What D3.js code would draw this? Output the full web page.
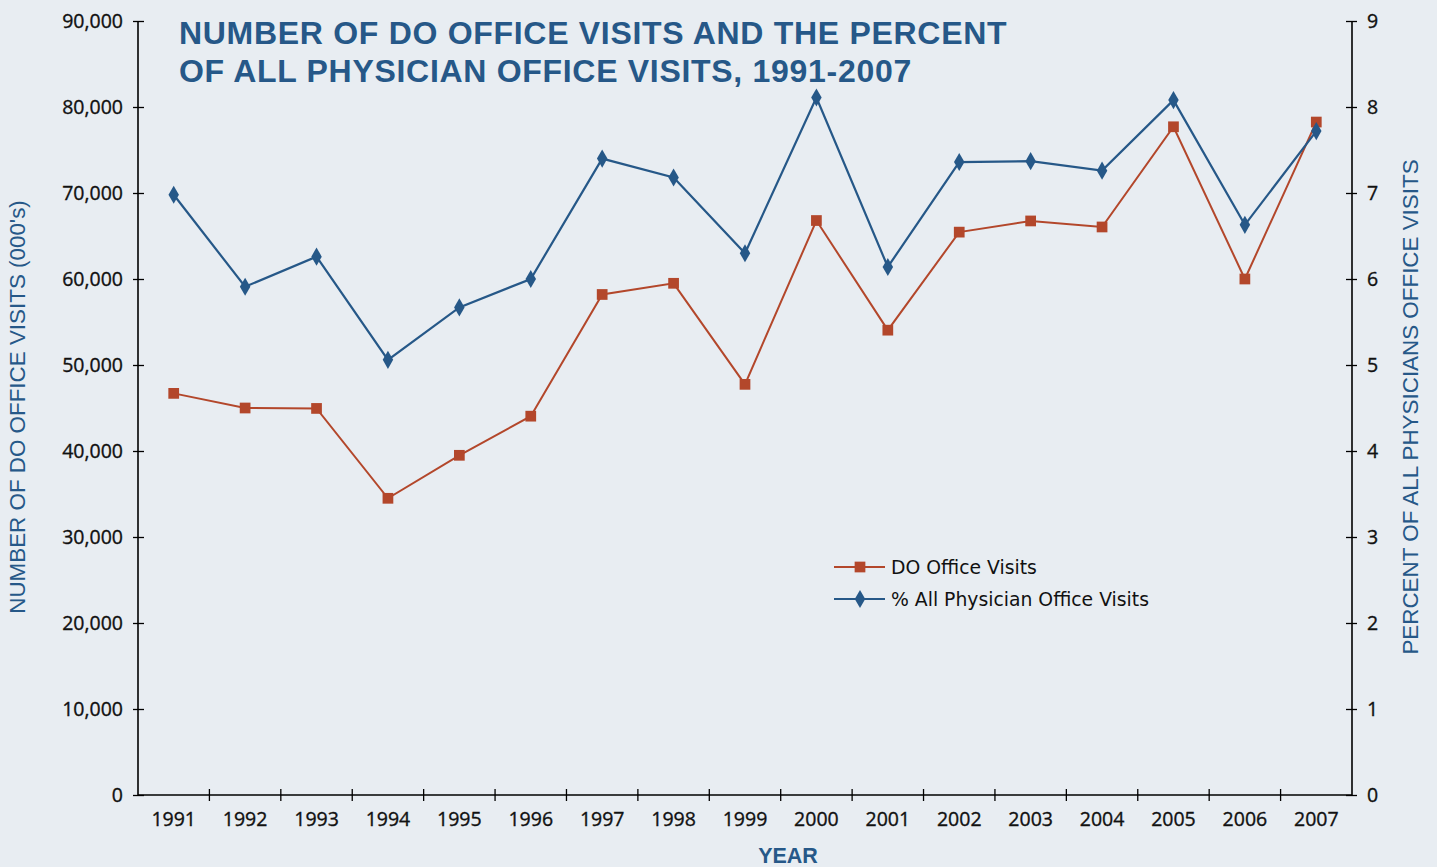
<!DOCTYPE html>
<html><head><meta charset="utf-8">
<script src="https://cdn.jsdelivr.net/npm/d3@7"></script>
<style>body{margin:0;background:#fff}svg{display:block}</style>
</head><body>
<svg id="c" width="1443" height="867"></svg>
<script>
const years = ["1991","1992","1993","1994","1995","1996","1997","1998","1999","2000","2001","2002","2003","2004","2005","2006","2007"];
const doVisits = [46700,45000,44950,34500,39500,44050,58200,59500,47750,66800,54050,65450,66750,66050,77700,60000,78250];
const pctVisits = [6.98,5.91,6.26,5.06,5.67,6.0,7.40,7.18,6.30,8.11,6.14,7.36,7.37,7.26,8.08,6.63,7.72];
const leftTicks = [0,10000,20000,30000,40000,50000,60000,70000,80000,90000];
const rightTicks = [0,1,2,3,4,5,6,7,8,9];
const seriesNames = ["DO Office Visits","% All Physician Office Visits"];

const red = "#b3472b", blue = "#265888", bg = "#e8edf2";
const svg = d3.select("#c");
svg.append("rect").attr("width",1437).attr("height",867).attr("fill",bg);

const L=138, R=1352, T=21, B=795;
const x = d3.scaleBand().domain(years).range([L,R]);
const yL = d3.scaleLinear().domain([0,90000]).range([B,T]);
const yR = d3.scaleLinear().domain([0,9]).range([B,T]);
const tickFont = "'Open Sans', 'DejaVu Sans', sans-serif";
const legFont = "'DejaVu Sans', sans-serif";
const labFont = "'Liberation Sans', Arial, sans-serif";

const gl = svg.append("g").attr("transform",`translate(${L},0)`)
  .call(d3.axisLeft(yL).tickValues(leftTicks).tickFormat(d3.format(",")).tickSize(5).tickPadding(10));
gl.selectAll(".tick line").attr("x1",6);
const gr = svg.append("g").attr("transform",`translate(${R},0)`)
  .call(d3.axisRight(yR).tickValues(rightTicks).tickSize(5).tickPadding(10));
gr.selectAll(".tick line").attr("x1",-6);
const gx = svg.append("g").attr("transform",`translate(0,${B})`)
  .call(d3.axisBottom(x).tickSize(0).tickPadding(17));
gx.selectAll(".bt").data(years.slice(1)).enter().append("line")
  .attr("x1",d=>x(d)).attr("x2",d=>x(d)).attr("y1",-6).attr("y2",6).attr("stroke","#000");
[gl,gr,gx].forEach(g=>{
  g.select(".domain").attr("stroke","#000").attr("stroke-width",1.6);
  g.selectAll("line").attr("stroke","#000").attr("stroke-width",1.3);
  g.selectAll("text").attr("font-family",tickFont).attr("font-size",19.5).attr("fill","#111")
    .attr("stroke","#111").attr("stroke-width",0.35);
});
gl.select(".domain").attr("d",`M0,${B}V${T}`);
gr.select(".domain").attr("d",`M0,${B}V${T}`);
gx.select(".domain").attr("d",`M${L},0H${R}`);

const cx = d=>x(d)+x.bandwidth()/2;
const lineDO = d3.line().x((d,i)=>cx(years[i])).y(d=>yL(d));
const linePct = d3.line().x((d,i)=>cx(years[i])).y(d=>yR(d));
svg.append("path").attr("d",lineDO(doVisits)).attr("fill","none").attr("stroke",red).attr("stroke-width",2);
svg.append("path").attr("d",linePct(pctVisits)).attr("fill","none").attr("stroke",blue).attr("stroke-width",2.2);
const sq = d3.symbol().type(d3.symbolSquare).size(115);
const dm = d3.symbol().type(d3.symbolDiamond).size(95);
svg.selectAll(".sq").data(doVisits).enter().append("path")
  .attr("d",sq).attr("fill",red).attr("transform",(d,i)=>`translate(${cx(years[i])},${yL(d)})`);
svg.selectAll(".dm").data(pctVisits).enter().append("path")
  .attr("d",dm).attr("fill",blue).attr("transform",(d,i)=>`translate(${cx(years[i])},${yR(d)})`);

const leg = [{n:seriesNames[0],c:red,s:sq,y:567},{n:seriesNames[1],c:blue,s:dm,y:599}];
leg.forEach(l=>{
  svg.append("line").attr("x1",834).attr("x2",885).attr("y1",l.y).attr("y2",l.y).attr("stroke",l.c).attr("stroke-width",2);
  svg.append("path").attr("d",l.s).attr("fill",l.c).attr("transform",`translate(860,${l.y})`);
  svg.append("text").attr("x",891).attr("y",l.y+6.5).text(l.n)
    .attr("font-family",legFont).attr("font-size",18.8).attr("fill","#111");
});

const t = svg.append("text").attr("font-family",labFont).attr("font-weight","bold").attr("font-size",32)
  .attr("letter-spacing",0.7).attr("fill",blue);
t.append("tspan").attr("x",179).attr("y",44).text("NUMBER OF DO OFFICE VISITS AND THE PERCENT");
t.append("tspan").attr("x",179).attr("y",82).text("OF ALL PHYSICIAN OFFICE VISITS, 1991-2007");

svg.append("text").attr("transform",`translate(25,407) rotate(-90)`).attr("text-anchor","middle")
  .attr("font-family",labFont).attr("font-size",22.4).attr("fill",blue).text("NUMBER OF DO OFFICE VISITS (000's)");
svg.append("text").attr("transform",`translate(1418,407) rotate(-90)`).attr("text-anchor","middle")
  .attr("font-family",labFont).attr("font-size",22.4).attr("fill",blue).text("PERCENT OF ALL PHYSICIANS OFFICE VISITS");
svg.append("text").attr("x",788).attr("y",863).attr("text-anchor","middle")
  .attr("font-family",labFont).attr("font-size",21.5).attr("font-weight","bold").attr("fill",blue).text("YEAR");
</script>
</body></html>
